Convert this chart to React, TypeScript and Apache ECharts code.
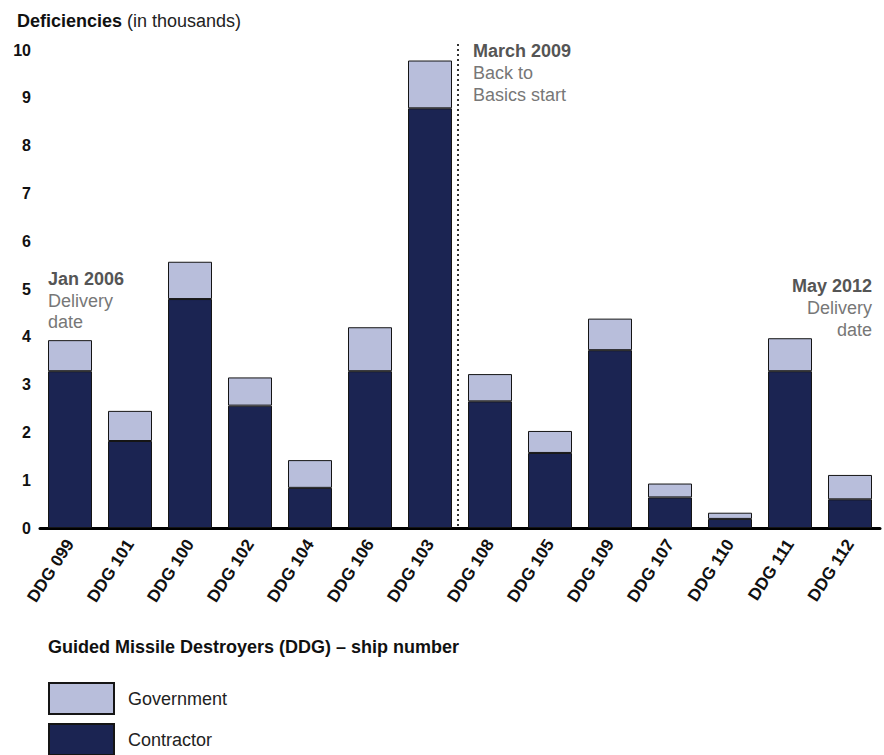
import React, { useEffect, useRef } from "react";
import * as echarts from "echarts";

const categories = [
  "DDG 099", "DDG 101", "DDG 100", "DDG 102", "DDG 104", "DDG 106", "DDG 103",
  "DDG 108", "DDG 105", "DDG 109", "DDG 107", "DDG 110", "DDG 111", "DDG 112",
];
const contractor = [3.28, 1.82, 4.79, 2.56, 0.84, 3.28, 8.78, 2.65, 1.57, 3.72, 0.64, 0.19, 3.28, 0.6];
const totals = [3.93, 2.45, 5.57, 3.15, 1.42, 4.2, 9.78, 3.22, 2.03, 4.38, 0.93, 0.32, 3.97, 1.11];
const government = totals.map((t, i) => +(t - contractor[i]).toFixed(2));
const yTicks = { min: 0, max: 10, interval: 1 };

const FONT = "Arial, 'Liberation Sans', sans-serif";
const DARK = "#1b2452";
const LIGHT = "#b8bedb";

export default function App() {
  const ref = useRef<HTMLDivElement>(null);
  useEffect(() => {
    if (!ref.current) return;
    const chart = echarts.init(ref.current, null, { renderer: "svg" });
    const legendBase = {
      orient: "vertical",
      left: 48,
      padding: 0,
      itemWidth: 65,
      itemHeight: 31,
      icon: "rect",
      textStyle: { fontFamily: FONT, fontSize: 18, color: "#222", padding: [0, 0, 0, 9] },
    };
    chart.setOption({
      animation: false,
      backgroundColor: "#ffffff",
      textStyle: { fontFamily: FONT },
      title: {
        left: 12,
        top: 7,
        text: "{b|Deficiencies}{n| (in thousands)}",
        textStyle: {
          fontWeight: "normal",
          rich: {
            b: { fontFamily: FONT, fontSize: 18, fontWeight: "bold", color: "#111" },
            n: { fontFamily: FONT, fontSize: 18, fontWeight: "normal", color: "#222" },
          },
        },
      },
      legend: [
        { ...legendBase, top: 682, data: ["Government"] },
        { ...legendBase, top: 723, data: ["Contractor"] },
      ],
      grid: { left: 40, right: 4, top: 50, bottom: 227, containLabel: false },
      xAxis: {
        type: "category",
        data: categories,
        axisLine: { lineStyle: { color: "#000", width: 3 } },
        axisTick: { show: false },
        axisLabel: {
          rotate: 57,
          margin: 13,
          fontFamily: FONT,
          fontSize: 17,
          fontWeight: "bold",
          color: "#111",
          interval: 0,
        },
      },
      yAxis: {
        type: "value",
        min: yTicks.min,
        max: yTicks.max,
        interval: yTicks.interval,
        axisLine: { show: false },
        axisTick: { show: false },
        splitLine: { show: false },
        axisLabel: { fontFamily: FONT, fontSize: 16, fontWeight: "bold", color: "#111", margin: 9 },
      },
      series: [
        {
          name: "Contractor",
          type: "bar",
          stack: "total",
          data: contractor,
          barWidth: 44,
          itemStyle: { color: DARK, borderColor: "#151515", borderWidth: 1 },
        },
        {
          name: "Government",
          type: "bar",
          stack: "total",
          data: government,
          barWidth: 44,
          itemStyle: { color: LIGHT, borderColor: "#151515", borderWidth: 1 },
        },
      ],
    });

    const x6 = chart.convertToPixel({ xAxisIndex: 0 }, categories[6]) as number;
    const x7 = chart.convertToPixel({ xAxisIndex: 0 }, categories[7]) as number;
    const xLine = (x6 + x7) / 2 - 2;
    const yBase = chart.convertToPixel({ yAxisIndex: 0 }, 0) as number;
    const yTop = chart.convertToPixel({ yAxisIndex: 0 }, 10) as number;
    const firstX = (chart.convertToPixel({ xAxisIndex: 0 }, categories[0]) as number) - 22;
    const lastX = (chart.convertToPixel({ xAxisIndex: 0 }, categories[13]) as number) + 22;

    const grayBold = { fontFamily: FONT, fontSize: 18, fontWeight: "bold", fill: "#555" };
    const gray = { fontFamily: FONT, fontSize: 18, fill: "#777" };

    chart.setOption({
      graphic: [
        {
          type: "line",
          shape: { x1: xLine, y1: yTop - 6, x2: xLine, y2: yBase - 2 },
          style: { stroke: "#333", lineWidth: 2, lineDash: [2, 3] },
          z: 10,
        },
        { type: "text", left: xLine + 15, top: 42, style: { ...grayBold, text: "March 2009" } },
        { type: "text", left: xLine + 15, top: 64, style: { ...gray, text: "Back to" } },
        { type: "text", left: xLine + 15, top: 86, style: { ...gray, text: "Basics start" } },
        { type: "text", left: firstX, top: 270, style: { ...grayBold, text: "Jan 2006" } },
        { type: "text", left: firstX, top: 292, style: { ...gray, text: "Delivery" } },
        { type: "text", left: firstX, top: 313, style: { ...gray, text: "date" } },
        { type: "text", right: 884 - lastX, top: 277, style: { ...grayBold, text: "May 2012", align: "right" } },
        { type: "text", right: 884 - lastX, top: 299, style: { ...gray, text: "Delivery", align: "right" } },
        { type: "text", right: 884 - lastX, top: 321, style: { ...gray, text: "date", align: "right" } },
        {
          type: "text",
          left: firstX,
          top: 638,
          style: {
            fontFamily: FONT,
            fontSize: 18,
            fontWeight: "bold",
            fill: "#111",
            text: "Guided Missile Destroyers (DDG) – ship number",
          },
        },
      ],
    });
    return () => chart.dispose();
  }, []);
  return (
    <div
      ref={ref}
      style={{ position: "absolute", left: 0, top: 0, width: 884, height: 755 }}
    />
  );
}
